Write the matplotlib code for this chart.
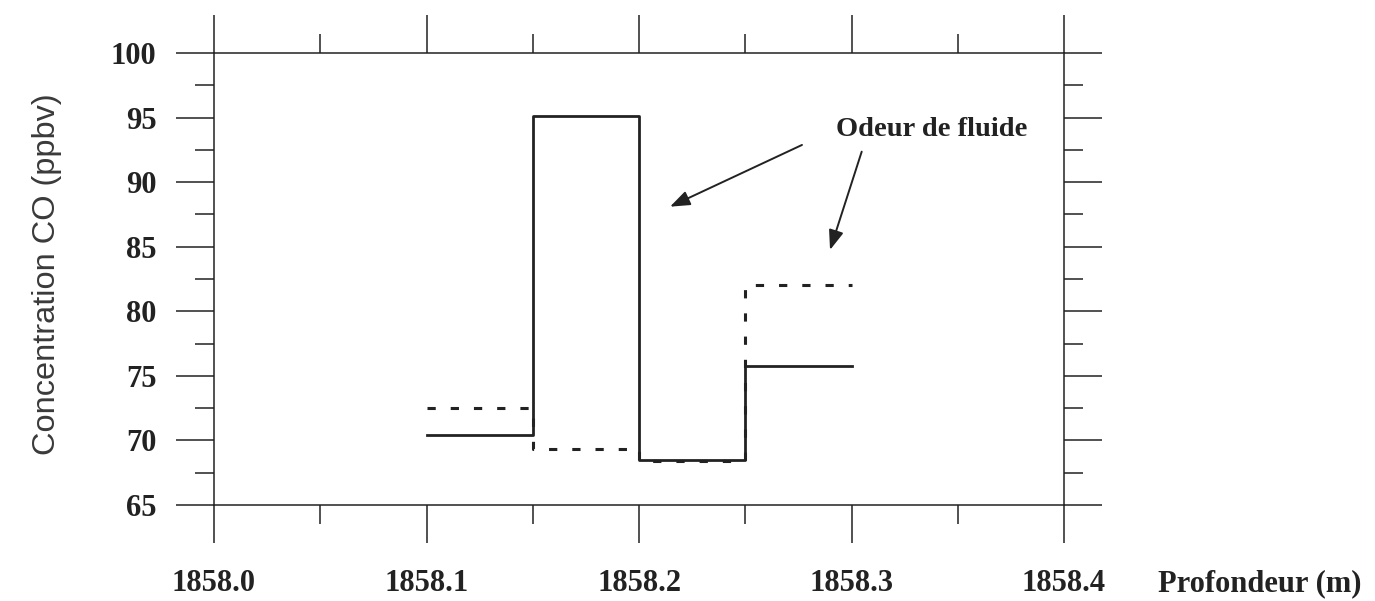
import matplotlib.pyplot as plt
from matplotlib.ticker import MultipleLocator
import numpy as np

# Data
depth_edges = [1858.10, 1858.15, 1858.20, 1858.25, 1858.30]
co_solid = [70.4, 95.1, 68.5, 75.8, 75.8]
co_dashed = [72.5, 69.3, 68.4, 82.0, 82.0]

x_ticks = [1858.0, 1858.1, 1858.2, 1858.3, 1858.4]
x_tick_labels = ["1858.0", "1858.1", "1858.2", "1858.3", "1858.4"]
y_ticks = [65, 70, 75, 80, 85, 90, 95, 100]

annot_text = "Odeur de fluide"

serif = "Liberation Serif"

fig = plt.figure(figsize=(13.75, 6.01), dpi=100)
ax = fig.add_axes([214 / 1375, 1 - 505 / 601, 850 / 1375, 452 / 601])

ax.plot(depth_edges, co_dashed, drawstyle="steps-post", color="#222222",
        lw=2.2, linestyle=(0, (2.7, 4.9)))
ax.plot(depth_edges, co_solid, drawstyle="steps-post", color="#222222", lw=2.0)

ax.set_xlim(1858.0, 1858.4)
ax.set_ylim(65, 100)

ax.set_xticks(x_ticks)
ax.set_xticklabels(x_tick_labels)
ax.xaxis.set_minor_locator(MultipleLocator(0.05))
ax.set_yticks(y_ticks)
ax.yaxis.set_minor_locator(MultipleLocator(2.5))

ax.tick_params(which="both", direction="out", top=True, right=True,
               width=1.1, color="#222222")
ax.tick_params(which="major", length=27.4)
ax.tick_params(which="minor", length=13.7)
ax.tick_params(axis="x", which="major", pad=19)
ax.tick_params(axis="y", which="major", pad=14)

for lab in ax.get_xticklabels() + ax.get_yticklabels():
    lab.set_fontfamily(serif)
    lab.set_fontweight("bold")
    lab.set_fontsize(22)
    lab.set_color("#222222")

for sp in ax.spines.values():
    sp.set_linewidth(1.1)
    sp.set_color("#222222")

ax.set_ylabel("Concentration CO (ppbv)", family="Liberation Sans",
              fontsize=23.4, color="#3a3a3a", va="center")
ax.yaxis.set_label_coords(-0.197, 0.51)

fig.text(1260 / 1375, (601 - 584) / 601, "Profondeur (m)", family=serif,
         fontweight="bold", fontsize=22, color="#222222",
         ha="center", va="center")

ax.text(1858.3379, 94.04, annot_text, family=serif, fontweight="bold",
        fontsize=20.5, color="#222222", ha="center", va="center")

arrow_props = dict(arrowstyle="-|>,head_length=1.2,head_width=0.45",
                   color="#222222", lw=1.4, shrinkA=0, shrinkB=0)
ax.annotate("", xy=(1858.2146, 88.1), xytext=(1858.2767, 92.88),
            arrowprops=arrow_props)
ax.annotate("", xy=(1858.2899, 84.75), xytext=(1858.3048, 92.36),
            arrowprops=arrow_props)

fig.savefig("out.png", dpi=100)
